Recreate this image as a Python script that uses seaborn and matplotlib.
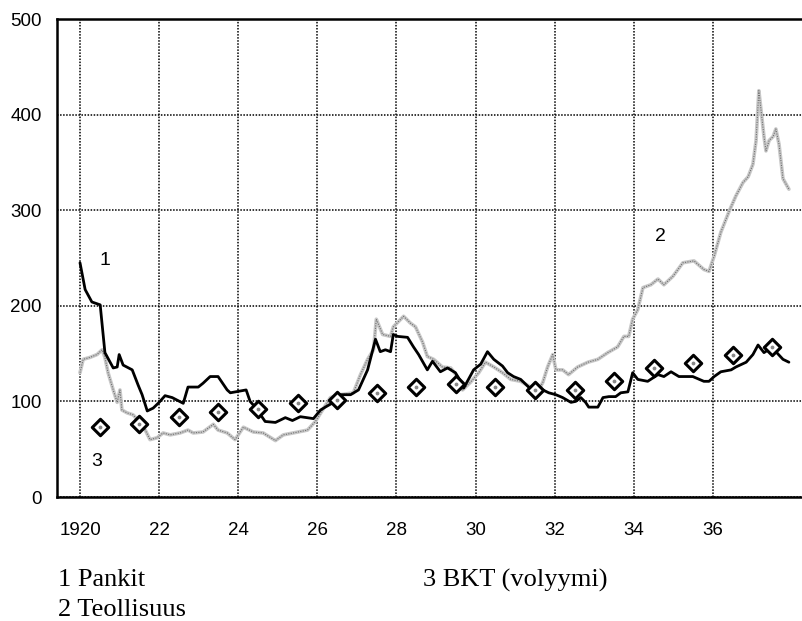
import matplotlib
matplotlib.use("Agg")
import matplotlib.pyplot as plt
import matplotlib.ticker as mticker
import seaborn as sns
import pandas as pd

# 1 Pankit
pankit_vuosi = [1920.00, 1920.13, 1920.30, 1920.51, 1920.63, 1920.84, 1920.94, 1920.99, 1921.09, 1921.32,
                1921.47, 1921.57, 1921.70, 1921.85, 1922.00, 1922.15, 1922.33, 1922.61, 1922.73, 1922.99,
                1923.11, 1923.29, 1923.49, 1923.72, 1923.80, 1924.20, 1924.30, 1924.43, 1924.68, 1924.94,
                1925.19, 1925.37, 1925.57, 1925.90, 1926.08, 1926.20, 1926.41, 1926.58, 1926.84, 1927.04,
                1927.27, 1927.47, 1927.59, 1927.72, 1927.85, 1927.92, 1928.03, 1928.28, 1928.43, 1928.56,
                1928.78, 1928.91, 1929.11, 1929.29, 1929.49, 1929.62, 1929.70, 1929.95, 1930.13, 1930.30,
                1930.46, 1930.68, 1930.81, 1930.96, 1931.14, 1931.34, 1931.47, 1931.70, 1931.85, 1932.03,
                1932.20, 1932.41, 1932.53, 1932.66, 1932.78, 1932.86, 1933.09, 1933.22, 1933.37, 1933.54,
                1933.67, 1933.85, 1933.97, 1934.10, 1934.35, 1934.61, 1934.76, 1934.94, 1935.14, 1935.49,
                1935.77, 1935.90, 1936.03, 1936.20, 1936.46, 1936.58, 1936.84, 1937.01, 1937.14, 1937.29,
                1937.47, 1937.59, 1937.77, 1937.92]
pankit = [245, 217, 204, 201, 151, 135, 136, 149, 138, 133,
          117, 107, 90, 93, 99, 106, 104, 98, 115, 115,
          119, 126, 126, 112, 109, 112, 100, 94, 79, 78,
          83, 80, 84, 82, 91, 94, 99, 107, 107, 112,
          133, 165, 152, 154, 152, 170, 168, 167, 157, 149,
          133, 142, 131, 135, 130, 121, 114, 133, 139, 152,
          144, 137, 130, 126, 123, 115, 112, 112, 109, 107,
          104, 99, 100, 104, 99, 94, 94, 104, 105, 105,
          109, 110, 130, 123, 121, 128, 126, 131, 126, 126,
          121, 121, 126, 131, 133, 136, 141, 149, 159, 151,
          156, 152, 144, 141]

# 2 Teollisuus
teol_vuosi = [1920.00, 1920.08, 1920.25, 1920.43, 1920.56, 1920.63, 1920.71, 1920.84, 1920.94, 1921.01,
              1921.06, 1921.19, 1921.34, 1921.52, 1921.65, 1921.77, 1921.95, 1922.10, 1922.28, 1922.53,
              1922.73, 1922.86, 1923.11, 1923.37, 1923.49, 1923.72, 1923.92, 1924.13, 1924.38, 1924.63,
              1924.94, 1925.14, 1925.39, 1925.75, 1925.95, 1926.13, 1926.33, 1926.58, 1926.91, 1927.09,
              1927.27, 1927.42, 1927.49, 1927.65, 1927.85, 1927.92, 1928.18, 1928.35, 1928.48, 1928.66,
              1928.78, 1928.94, 1929.16, 1929.37, 1929.54, 1929.67, 1929.87, 1930.08, 1930.25, 1930.46,
              1930.68, 1930.89, 1931.14, 1931.39, 1931.57, 1931.70, 1931.82, 1931.95, 1932.03, 1932.20,
              1932.35, 1932.58, 1932.84, 1933.09, 1933.34, 1933.59, 1933.75, 1933.87, 1933.97, 1934.10,
              1934.23, 1934.43, 1934.61, 1934.76, 1934.99, 1935.24, 1935.52, 1935.77, 1935.90, 1936.03,
              1936.20, 1936.41, 1936.58, 1936.76, 1936.89, 1937.01, 1937.09, 1937.16, 1937.22, 1937.29,
              1937.34, 1937.42, 1937.52, 1937.59, 1937.67, 1937.77, 1937.92]
teollisuus = [130, 144, 146, 149, 154, 146, 130, 112, 99, 112,
              91, 88, 86, 78, 70, 60, 62, 67, 65, 67,
              70, 67, 68, 76, 70, 67, 60, 73, 68, 67,
              59, 65, 67, 70, 79, 91, 104, 107, 109, 128,
              144, 154, 186, 170, 168, 178, 189, 182, 178, 162,
              147, 144, 136, 135, 126, 112, 120, 130, 141, 136,
              130, 123, 121, 115, 110, 120, 136, 149, 133, 133,
              128, 136, 141, 144, 151, 157, 168, 168, 186, 196,
              219, 222, 228, 222, 231, 245, 247, 238, 236, 252,
              277, 299, 315, 329, 335, 348, 373, 425, 403, 377,
              362, 373, 377, 385, 369, 333, 322]

# 3 BKT (volyymi), vuosiarvot vuoden puolivälissä
bkt_vuosi = [1920.5 + i for i in range(18)]
bkt = [73, 76, 84, 89, 92, 98, 101, 109, 115, 118, 115, 112, 112, 121, 135, 140, 149, 157]

df1 = pd.DataFrame({"vuosi": pankit_vuosi, "arvo": pankit})
df2 = pd.DataFrame({"vuosi": teol_vuosi, "arvo": teollisuus})
df3 = pd.DataFrame({"vuosi": bkt_vuosi, "arvo": bkt})

sns.set_style("white")
plt.rcParams['font.family'] = ['Liberation Sans', 'DejaVu Sans']
plt.rcParams['text.color'] = 'black'
plt.rcParams['xtick.color'] = 'black'
plt.rcParams['ytick.color'] = 'black'

fig = plt.figure(figsize=(8.02, 6.21), dpi=100)
ax = fig.add_axes([57 / 802, 1 - 497 / 621, 1 - 57 / 802, (497 - 19) / 621])

# Teollisuus: harmaa "rasteroitu" viiva
sns.lineplot(data=df2, x="vuosi", y="arvo", ax=ax, color="#c8c8c8", linewidth=2.6, zorder=3)
ax.plot(df2["vuosi"], df2["arvo"], color="#707070", linewidth=0.8, dashes=(1, 1.2), zorder=3.1)
# Pankit
sns.lineplot(data=df1, x="vuosi", y="arvo", ax=ax, color="black", linewidth=2.0, zorder=4)
# BKT
sns.scatterplot(data=df3, x="vuosi", y="arvo", ax=ax, marker="D", s=70, color="white",
                edgecolor="black", linewidth=2.2, zorder=5)
ax.scatter(df3["vuosi"], df3["arvo"], s=3, color="#888888", zorder=6)

ax.set_xlim(1920 - 23 / 39.56, 1920 + 722 / 39.56)
ax.set_ylim(0, 500)
ax.set_xticks(list(range(1920, 1937, 2)))
ax.set_xticklabels(["1920", "22", "24", "26", "28", "30", "32", "34", "36"])
ax.set_yticks([0, 100, 200, 300, 400, 500])
ax.yaxis.set_minor_locator(mticker.FixedLocator([50, 150, 250, 350, 450]))
ax.tick_params(axis="both", which="major", length=0, labelsize=13.5, labelcolor="black")
ax.tick_params(axis="x", which="major", pad=18)
ax.tick_params(axis="y", which="major", pad=11)
ax.tick_params(axis="y", which="minor", direction="in", length=10, width=1.6, color="black")
ax.set_xlabel("")
ax.set_ylabel("")

ax.grid(True, which="major", color="black", linestyle=(0, (1, 1)), linewidth=1.1)
for side in ["left", "bottom", "top"]:
    ax.spines[side].set_visible(True)
    ax.spines[side].set_color("black")
    ax.spines[side].set_linewidth(1.8)
ax.spines["right"].set_visible(False)

ax.text(1920.63, 247, "1", fontsize=14, ha="center", va="center", color="black")
ax.text(1934.68, 273, "2", fontsize=14, ha="center", va="center", color="black")
ax.text(1920.43, 37, "3", fontsize=14, ha="center", va="center", color="black")

serif = ['Liberation Serif', 'DejaVu Serif']
fig.text(58 / 802, 1 - 580 / 621, "1 Pankit", fontsize=19, family=serif, va="center", color="black")
fig.text(58 / 802, 1 - 610 / 621, "2 Teollisuus", fontsize=19, family=serif, va="center", color="black")
fig.text(423 / 802, 1 - 580 / 621, "3 BKT (volyymi)", fontsize=19, family=serif, va="center", color="black")

fig.savefig("out.png", dpi=100)
